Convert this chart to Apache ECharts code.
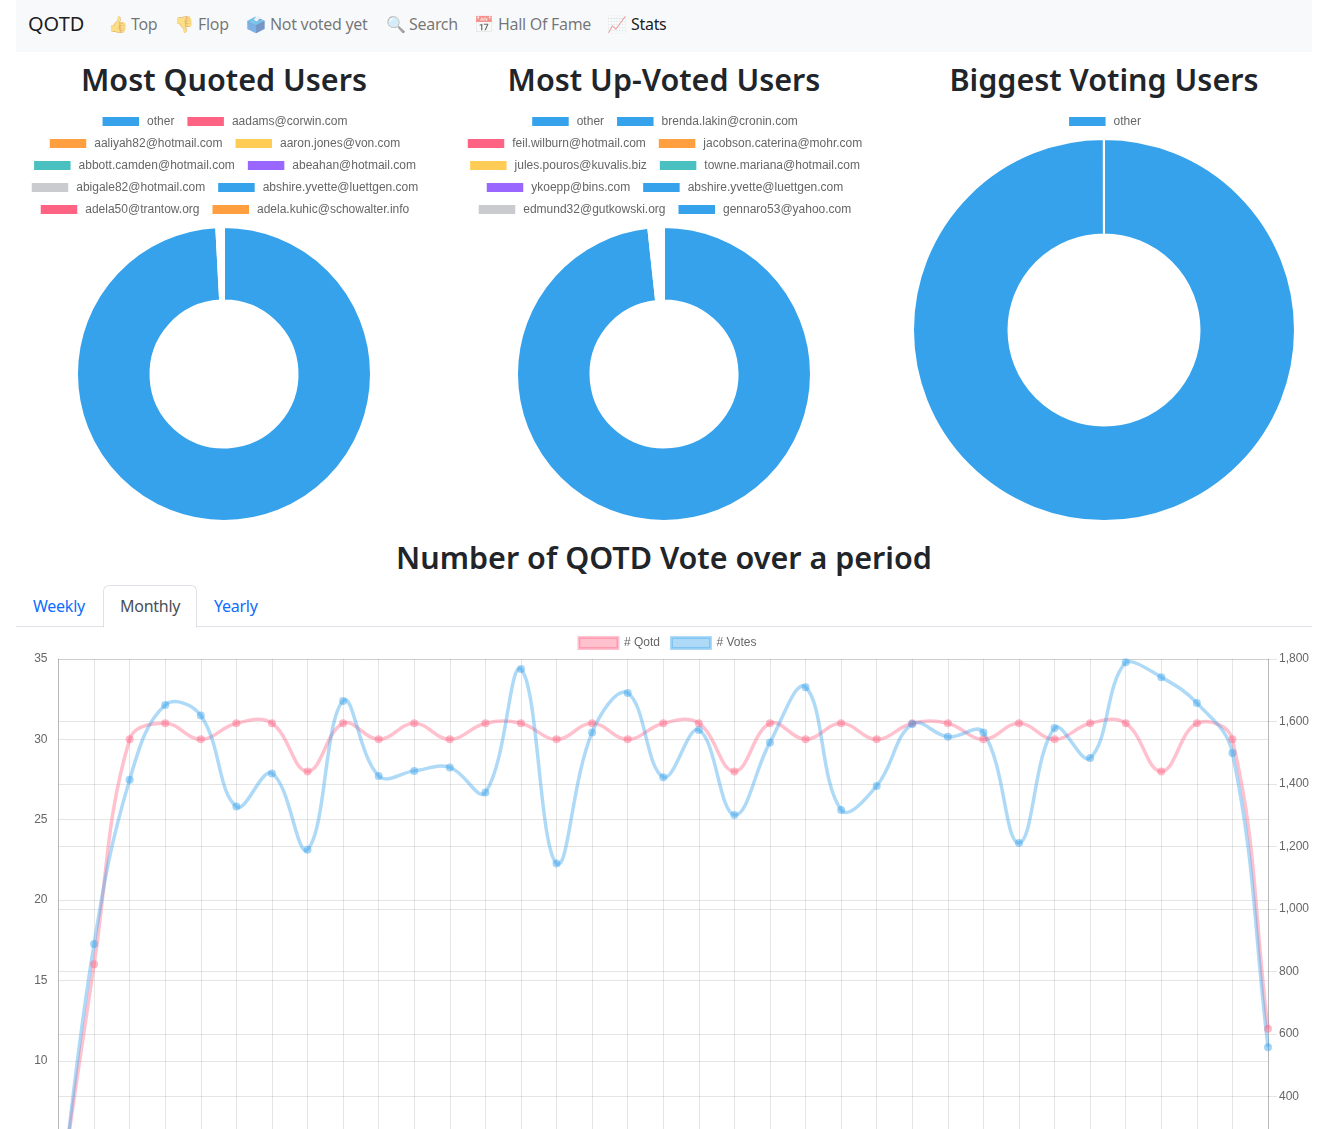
<!DOCTYPE html>
<html>
<head>
<meta charset="utf-8">
<title>QOTD Stats</title>
<script src="https://cdn.jsdelivr.net/npm/echarts@6/dist/echarts.min.js"></script>
<style>
html, body { margin: 0; padding: 0; background: #fff; height: 1129px; overflow: hidden; }
body { position: relative; font-family: "Noto Sans", sans-serif; color: #212529; }
.navbar { position: absolute; left: 16px; top: 0; width: 1296px; height: 52px; background: #f8f9fa; }
.nav { position: absolute; top: 12px; font-size: 16px; line-height: 24px; color: rgba(0,0,0,.55); white-space: nowrap; letter-spacing: -0.3px; }
.nav.on { color: rgba(0,0,0,.9); }
.brand { position: absolute; left: 12px; top: 9px; font-size: 20px; line-height: 30px; color: rgba(0,0,0,.9); }
.title { position: absolute; text-align: center; font-size: 30.5px; line-height: 38px; font-weight: 600; white-space: nowrap; }
.tabline { position: absolute; left: 16px; top: 626px; width: 1296px; height: 1px; background: #dee2e6; }
.tab { position: absolute; top: 594px; font-size: 16px; line-height: 24px; color: #0d6efd; letter-spacing: -0.25px; }
.tabbox { position: absolute; left: 103px; top: 585px; width: 92px; height: 41px; background: #fff; border: 1px solid #dee2e6; border-bottom: 1px solid #fff; border-radius: 6px 6px 0 0; }
.chart { position: absolute; }
</style>
</head>
<body>
<div class="navbar"><span class="brand">QOTD</span></div>
<span class="nav" style="left:108px">👍</span><span class="nav" style="left:131px">Top</span>
<span class="nav" style="left:174px">👎</span><span class="nav" style="left:198px">Flop</span>
<span class="nav" style="left:246px">🗳️</span><span class="nav" style="left:270px">Not voted yet</span>
<span class="nav" style="left:386px">🔍</span><span class="nav" style="left:409px">Search</span>
<span class="nav" style="left:474px">📅</span><span class="nav" style="left:498px">Hall Of Fame</span>
<span class="nav" style="left:607px">📈</span><span class="nav on" style="left:631px">Stats</span>

<div class="title" style="left:4px;width:440px;top:60px">Most Quoted Users</div>
<div class="title" style="left:444px;width:440px;top:60px">Most Up-Voted Users</div>
<div class="title" style="left:884px;width:440px;top:60px">Biggest Voting Users</div>
<div class="title" style="left:4px;width:1320px;top:538px">Number of QOTD Vote over a period</div>

<div class="chart" id="pie-quoted" style="left:4px;top:110px;width:440px;height:420px"></div>
<div class="chart" id="pie-upvoted" style="left:444px;top:110px;width:440px;height:420px"></div>
<div class="chart" id="pie-voting" style="left:884px;top:110px;width:440px;height:420px"></div>

<div class="tabline"></div>
<div class="tabbox"></div>
<span class="tab" style="left:33px">Weekly</span>
<span class="tab" style="left:120px;color:#495057">Monthly</span>
<span class="tab" style="left:214px">Yearly</span>

<div class="chart" id="votes-chart" style="left:0;top:627px;width:1334px;height:660px"></div>

<script>
var blue = '#36a2eb', pink = '#ff6384', orange = '#ff9f40', yellow = '#ffcd56',
    teal = '#4bc0c0', purple = '#9966ff', grey = '#c9cbcf';

// 饼图数据
var quotedNames = ['other', 'aadams@corwin.com', 'aaliyah82@hotmail.com', 'aaron.jones@von.com',
    'abbott.camden@hotmail.com', 'abeahan@hotmail.com', 'abigale82@hotmail.com',
    'abshire.yvette@luettgen.com', 'adela50@trantow.org', 'adela.kuhic@schowalter.info'];
var quotedValues = [1090, 1.1, 1.1, 1, 1, 1, 1, 1, 1, 1];
var quotedColors = [blue, pink, orange, yellow, teal, purple, grey, blue, pink, orange];

var upvotedNames = ['other', 'brenda.lakin@cronin.com', 'feil.wilburn@hotmail.com', 'jacobson.caterina@mohr.com',
    'jules.pouros@kuvalis.biz', 'towne.mariana@hotmail.com', 'ykoepp@bins.com',
    'abshire.yvette@luettgen.com', 'edmund32@gutkowski.org', 'gennaro53@yahoo.com'];
var upvotedValues = [530, 1.1, 1.1, 1, 1, 1, 1, 1, 1, 1];
var upvotedColors = [blue, blue, pink, orange, yellow, teal, purple, blue, grey, blue];

var votingNames = ['other', 'rest'];
var votingValues = [100, 0.01];
var votingColors = [blue];

// 折线图数据
var days = ['1', '2', '3', '4', '5', '6', '7', '8', '9', '10', '11', '12', '13', '14', '15', '16', '17', '18',
    '19', '20', '21', '22', '23', '24', '25', '26', '27', '28', '29', '30', '31', '32', '33', '34', '35'];
var qotdCounts = [1, 16, 30, 31, 30, 31, 31, 28, 31, 30, 31, 30, 31, 31, 30, 31, 30, 31,
    31, 28, 31, 30, 31, 30, 31, 31, 30, 31, 30, 31, 31, 28, 31, 30, 12];
var voteCounts = [20, 888, 1414, 1653, 1619, 1328, 1434, 1190, 1666, 1426, 1442, 1453, 1373, 1768, 1146, 1565, 1691, 1422,
    1573, 1301, 1533, 1710, 1317, 1394, 1592, 1551, 1565, 1211, 1579, 1483, 1790, 1742, 1659, 1499, 558];

function draw_pie(id, names, values, colors, cy, inner, outer) {
    var chart = echarts.init(document.getElementById(id));
    var legends = [];
    // 图例每行居中, 每行两个
    for (var i = 0; i * 2 < colors.length; i++) {
        var row = [];
        for (var j = i * 2; j < i * 2 + 2 && j < colors.length; j++) {
            row.push({ name: names[j], itemStyle: { color: colors[j] } });
        }
        legends.push({
            data: row,
            top: i * 22,
            left: 'center',
            icon: 'rect',
            itemWidth: 38.5,
            itemHeight: 11,
            itemGap: 11,
            selectedMode: false,
            textStyle: { color: '#666', fontSize: 12, fontFamily: '"Liberation Sans", Arial, sans-serif', padding: [0, 0, 0, 2] }
        });
    }
    var data = [];
    for (var k = 0; k < names.length; k++) {
        // 这些小扇区在原图里是白色缝隙
        data.push({ name: names[k], value: values[k], itemStyle: { color: k == 0 ? blue : '#fff' } });
    }
    chart.setOption({
        animation: false,
        legend: legends,
        series: [{
            type: 'pie',
            center: [220, cy],
            radius: [inner, outer],
            startAngle: 90,
            clockwise: true,
            silent: true,
            label: { show: false },
            labelLine: { show: false },
            itemStyle: { borderColor: '#fff', borderWidth: 2 },
            data: data
        }]
    });
}

// echarts 自带的 smooth 会截掉过冲, 这里按 chart.js 的算法画曲线 (tension 0.4)
function spline_item(values, color) {
    return function (params, api) {
        if (params.dataIndex != 0) return null;
        var box = params.coordSys;
        var pts = values.map(function (v, i) { return api.coord([i, v]); });
        var cps = pts.map(function (p, i) {
            var prev = pts[i - 1] || p, next = pts[i + 1] || p;
            var d01 = Math.hypot(p[0] - prev[0], p[1] - prev[1]);
            var d12 = Math.hypot(next[0] - p[0], next[1] - p[1]);
            var fa = 0.4 * d01 / (d01 + d12), fb = 0.4 * d12 / (d01 + d12);
            var capY = function (y) { return Math.min(Math.max(y, box.y), box.y + box.height); };
            return {
                x0: p[0] - fa * (next[0] - prev[0]), y0: capY(p[1] - fa * (next[1] - prev[1])),
                x1: p[0] + fb * (next[0] - prev[0]), y1: capY(p[1] + fb * (next[1] - prev[1]))
            };
        });
        var d = 'M' + pts[0][0] + ' ' + pts[0][1];
        for (var i = 1; i < pts.length; i++) {
            d += 'C' + cps[i - 1].x1 + ' ' + cps[i - 1].y1 + ' ' + cps[i].x0 + ' ' + cps[i].y0 + ' ' + pts[i][0] + ' ' + pts[i][1];
        }
        return { type: 'path', shape: { pathData: d }, style: { fill: 'none', stroke: color, lineWidth: 3.5 }, silent: true };
    };
}

function draw_votes() {
    var chart = echarts.init(document.getElementById('votes-chart'));
    var grid = 'rgba(0,0,0,0.1)';
    var label = { color: '#666', fontSize: 12, fontFamily: '"Liberation Sans", Arial, sans-serif' };
    var as_pairs = function (values) { return values.map(function (v, i) { return [i, v]; }); };
    chart.setOption({
        animation: false,
        legend: {
            top: 4,
            left: 'center',
            icon: 'rect',
            itemWidth: 39,
            itemHeight: 11,
            itemGap: 10,
            selectedMode: false,
            textStyle: { color: '#666', fontSize: 12, fontFamily: '"Liberation Sans", Arial, sans-serif', padding: [0, 0, 0, 1] },
            data: [
                { name: '# Qotd', itemStyle: { color: 'rgba(255,99,132,0.4)', borderColor: 'rgba(255,99,132,0.4)', borderWidth: 3 } },
                { name: '# Votes', itemStyle: { color: 'rgba(54,162,235,0.4)', borderColor: 'rgba(54,162,235,0.4)', borderWidth: 3 } }
            ]
        },
        grid: { left: 58.5, top: 32, width: 1209.5, height: 562.5 },
        xAxis: {
            type: 'category',
            boundaryGap: false,
            data: days,
            axisLine: { lineStyle: { color: grid } },
            axisTick: { show: false },
            axisLabel: { show: false },
            splitLine: { show: true, interval: 0, lineStyle: { color: grid } }
        },
        yAxis: [{
            type: 'value',
            min: 0,
            max: 35,
            interval: 5,
            axisLine: { show: true, lineStyle: { color: 'rgba(0,0,0,0.2)' } },
            axisTick: { show: false },
            axisLabel: Object.assign({ margin: 11 }, label),
            splitLine: { show: true, lineStyle: { color: grid } }
        }, {
            type: 'value',
            min: 0,
            max: 1800,
            interval: 200,
            axisLine: { show: true, lineStyle: { color: 'rgba(0,0,0,0.2)' } },
            axisTick: { show: true, length: 9, lineStyle: { color: grid } },
            axisLabel: Object.assign({ margin: 11, formatter: function (v) { return v.toLocaleString('en-US'); } }, label),
            splitLine: { show: true, lineStyle: { color: grid } }
        }],
        series: [{
            name: '# Qotd',
            type: 'custom',
            yAxisIndex: 0,
            data: as_pairs(qotdCounts),
            renderItem: spline_item(qotdCounts, 'rgba(255,99,132,0.4)')
        }, {
            name: '# Votes',
            type: 'custom',
            yAxisIndex: 1,
            data: as_pairs(voteCounts),
            renderItem: spline_item(voteCounts, 'rgba(54,162,235,0.4)')
        }, {
            name: '# Qotd',
            type: 'line',
            yAxisIndex: 0,
            data: qotdCounts,
            symbol: 'circle',
            symbolSize: 8,
            silent: true,
            clip: false,
            lineStyle: { opacity: 0 },
            itemStyle: { color: 'rgba(255,99,132,0.45)' }
        }, {
            name: '# Votes',
            type: 'line',
            yAxisIndex: 1,
            data: voteCounts,
            symbol: 'circle',
            symbolSize: 8,
            silent: true,
            clip: false,
            lineStyle: { opacity: 0 },
            itemStyle: { color: 'rgba(54,162,235,0.45)' }
        }]
    });
}

draw_pie('pie-quoted', quotedNames, quotedValues, quotedColors, 264, 73.5, 147);
draw_pie('pie-upvoted', upvotedNames, upvotedValues, upvotedColors, 264, 73.5, 147);
draw_pie('pie-voting', votingNames, votingValues, votingColors, 220, 95.5, 191);
draw_votes();
</script>
</body>
</html>
